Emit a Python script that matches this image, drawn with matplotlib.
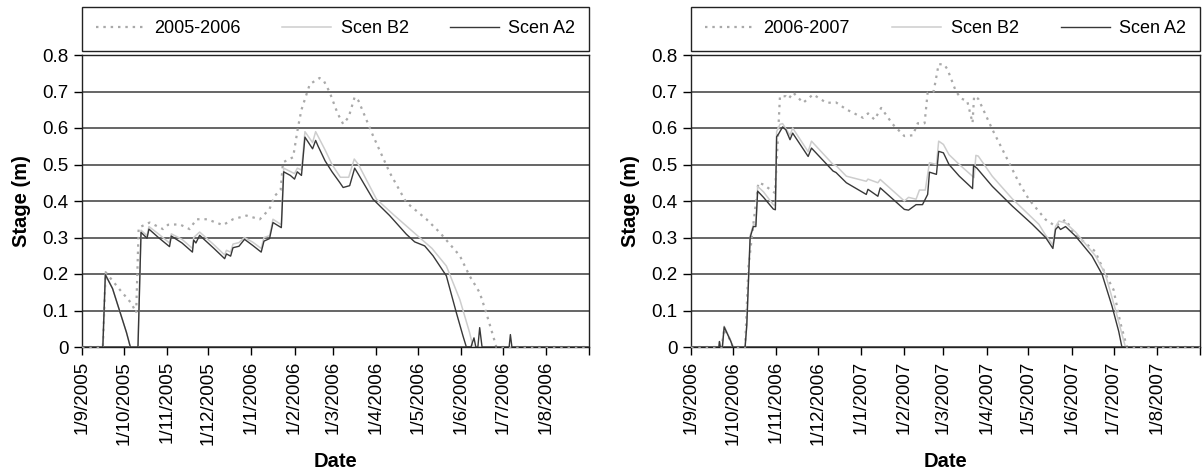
import numpy as np
import pandas as pd
import matplotlib
matplotlib.use('Agg')
import matplotlib.pyplot as plt
from matplotlib.ticker import FuncFormatter

plt.rcParams['font.family'] = ['Liberation Sans', 'DejaVu Sans']

# ---- left panel: season 2005-2006 (days counted from 1 Sep 2005) ----
start_left = '2005-09-01'
obs_left_label = '2005-2006'
obs_left_days = [0, 15, 17, 27, 35.5, 39, 40.8, 48.7, 58.3, 62, 70.3, 77.5, 82.4, 90, 101.5,
                 108.7, 118.4, 128, 135, 138.7, 143, 144.7, 152, 155.5, 158, 164, 171, 174,
                 178.3, 184, 188, 192, 196.3, 199, 209.5, 221.5, 233.5, 248, 257.5, 272, 279,
                 286.3, 291, 296, 298.3, 365]
obs_left = [0, 0, 0.205, 0.158, 0.12, 0.094, 0.327, 0.341, 0.323, 0.335, 0.336, 0.323, 0.35,
            0.35, 0.334, 0.35, 0.36, 0.35, 0.378, 0.414, 0.43, 0.506, 0.52, 0.602, 0.65, 0.72,
            0.737, 0.73, 0.698, 0.64, 0.611, 0.63, 0.685, 0.675, 0.579, 0.478, 0.396, 0.35,
            0.314, 0.25, 0.195, 0.149, 0.094, 0.03, 0, 0]

b2_left_days = [0, 15, 16.8, 22, 27, 32, 34.8, 40.3, 42.5, 46.8, 48.2, 55, 63, 64.3, 72, 79.5,
                80.4, 84.7, 95, 102.7, 104, 107, 108.7, 113, 117, 123, 129, 131, 135, 137.5,
                143.5, 145.2, 153, 155, 158, 160.5, 166, 168.2, 175, 180, 186, 192, 196, 199,
                212, 225, 243, 252, 262.3, 272, 279, 281.5, 365]
b2_left = [0, 0, 0.2, 0.16, 0.1, 0.04, 0, 0, 0.32, 0.305, 0.33, 0.31, 0.285, 0.31, 0.295, 0.27,
           0.3, 0.315, 0.28, 0.252, 0.265, 0.26, 0.282, 0.286, 0.3, 0.287, 0.27, 0.3, 0.305,
           0.35, 0.335, 0.49, 0.475, 0.49, 0.485, 0.59, 0.56, 0.59, 0.54, 0.5, 0.465, 0.465,
           0.515, 0.5, 0.405, 0.36, 0.3, 0.27, 0.222, 0.13, 0.04, 0, 0]

a2_left_days = [0, 15, 16.8, 22, 27, 32, 34.8, 40.3, 42.5, 46.8, 48.2, 55, 63, 64.3, 72, 79.5,
                80.4, 82, 84.7, 95, 102.7, 104, 107, 108.7, 113, 117, 123, 129, 131, 135, 137.5,
                143.5, 145.2, 150, 153, 155, 158, 160.5, 166, 168.2, 170, 175, 180, 185.5, 188,
                192.7, 196.3, 199, 209.5, 221.5, 233.5, 239.5, 246.7, 252.7, 262.3, 269.5,
                274.3, 276.7, 280, 282.2, 283.5, 285, 286.3, 288, 307.5, 308.4, 309.5, 365]
a2_left = [0, 0, 0.198, 0.16, 0.1, 0.04, 0, 0, 0.314, 0.298, 0.323, 0.3, 0.275, 0.304, 0.285,
           0.26, 0.293, 0.285, 0.306, 0.27, 0.242, 0.255, 0.249, 0.272, 0.276, 0.295, 0.278,
           0.26, 0.29, 0.297, 0.341, 0.327, 0.48, 0.47, 0.46, 0.48, 0.47, 0.575, 0.543, 0.566,
           0.55, 0.51, 0.48, 0.451, 0.437, 0.442, 0.49, 0.473, 0.405, 0.36, 0.309, 0.288,
           0.277, 0.25, 0.195, 0.094, 0.03, 0, 0, 0.025, 0, 0, 0.053, 0, 0, 0.034, 0, 0]

# ---- right panel: season 2006-2007 (days counted from 1 Sep 2006) ----
start_right = '2006-09-01'
obs_right_label = '2006-2007'
obs_right_days = [0, 22, 23.8, 28.6, 30, 38.8, 41.2, 44.5, 48.3, 52, 60.2, 61.5, 63.8, 68, 70,
                  73.3, 80.4, 87.6, 97.1, 104, 111.4, 123.3, 127, 131.6, 136.4, 144.7, 153,
                  159, 162.6, 167.5, 169.7, 174, 177.6, 181.6, 184, 190, 194, 198, 201.9, 203,
                  206, 216.1, 225.7, 235.2, 242.4, 254.3, 261.4, 268.6, 275, 289.8, 297.1, 303,
                  307.9, 312.6, 365]
obs_right = [0, 0, 0.05, 0.015, 0, 0, 0.22, 0.33, 0.45, 0.445, 0.422, 0.51, 0.687, 0.687,
             0.68, 0.697, 0.669, 0.692, 0.669, 0.67, 0.651, 0.628, 0.64, 0.623, 0.655, 0.61,
             0.578, 0.58, 0.613, 0.613, 0.697, 0.7, 0.775, 0.774, 0.76, 0.7, 0.68, 0.675,
             0.614, 0.687, 0.68, 0.596, 0.523, 0.45, 0.404, 0.349, 0.331, 0.349, 0.31, 0.262,
             0.2, 0.157, 0.066, 0, 0]

b2_right_days = [0, 20, 20.4, 21, 22.5, 23.8, 25, 28.6, 30, 38.8, 40, 42.4, 44.7, 46.5, 47.8,
                 52, 59, 60.5, 61.4, 63.8, 65.7, 71, 72.9, 84, 86.4, 101.9, 104, 111.4, 125.7,
                 126.9, 134, 135.7, 153, 156, 161.4, 163.8, 168, 171, 176, 177.6, 181, 185,
                 192.4, 203, 204.3, 206, 216, 230.4, 249.5, 254, 259.5, 261.4, 263.8, 268.6,
                 275.7, 290, 297.1, 304.3, 311.5, 365]
b2_right = [0, 0, 0.015, 0, 0, 0.057, 0.047, 0.017, 0, 0, 0.06, 0.305, 0.335, 0.335, 0.44,
            0.425, 0.39, 0.387, 0.59, 0.61, 0.612, 0.58, 0.6, 0.535, 0.564, 0.5, 0.497, 0.468,
            0.454, 0.46, 0.45, 0.459, 0.4, 0.41, 0.405, 0.43, 0.43, 0.505, 0.5, 0.564, 0.555,
            0.527, 0.5, 0.464, 0.525, 0.523, 0.468, 0.406, 0.336, 0.308, 0.28, 0.33, 0.345,
            0.34, 0.315, 0.25, 0.2, 0.103, 0, 0]

a2_right_days = [0, 20, 20.4, 21, 22.5, 23.8, 25, 28.6, 30, 38.8, 40, 42.4, 44.7, 46.5, 47.8,
                 52, 59, 60.5, 61.4, 63, 65.7, 68, 71, 72.9, 84, 86.4, 101.9, 104, 111.4,
                 125.7, 126.9, 134, 135.7, 153, 156, 161.4, 166, 169.7, 171, 176, 177.6, 181,
                 185, 192.4, 201.9, 202.6, 205, 216.1, 230.4, 244.8, 254.3, 259.5, 261.4, 263.3,
                 265, 268.6, 275.7, 287.6, 294.8, 301.9, 306.7, 309, 365]
a2_right = [0, 0, 0.015, 0, 0, 0.055, 0.045, 0.015, 0, 0, 0.06, 0.3, 0.33, 0.33, 0.427, 0.41,
            0.378, 0.376, 0.576, 0.585, 0.603, 0.595, 0.568, 0.586, 0.522, 0.545, 0.482,
            0.478, 0.45, 0.418, 0.432, 0.413, 0.436, 0.377, 0.375, 0.39, 0.39, 0.418, 0.479,
            0.473, 0.536, 0.532, 0.5, 0.468, 0.434, 0.497, 0.49, 0.44, 0.386, 0.336, 0.3, 0.27,
            0.322, 0.33, 0.322, 0.33, 0.304, 0.249, 0.199, 0.112, 0.043, 0, 0]

month_ticks = 13
y_ticks = [0, 0.1, 0.2, 0.3, 0.4, 0.5, 0.6, 0.7, 0.8]


def to_dates(start, days):
    return pd.Timestamp(start) + pd.to_timedelta(np.array(days), unit='D')


def draw_panel(ax, start, obs_label, obs_days, obs, b2_days, b2, a2_days, a2, leg_box):
    ax.plot(to_dates(start, obs_days), obs, color='#a9a9a9', lw=1.6,
            linestyle=(0, (1.1, 2.2)), label=obs_label, zorder=3, clip_on=False)
    ax.plot(to_dates(start, b2_days), b2, color='#cdcdcd', lw=1.1, label='Scen B2', zorder=3)
    ax.plot(to_dates(start, a2_days), a2, color='#383838', lw=1.0, label='Scen A2', zorder=4)

    ticks = pd.date_range(start, periods=month_ticks, freq='MS')
    ax.set_xlim(ticks[0], ticks[-1])
    ax.set_xticks(ticks)
    ax.set_xticklabels([f'{d.day}/{d.month}/{d.year}' for d in ticks[:-1]] + [''],
                       rotation=90, fontsize=13.5)
    ax.set_ylim(0, 0.8)
    ax.set_yticks(y_ticks)
    ax.yaxis.set_major_formatter(FuncFormatter(lambda v, p: f'{v:g}'))
    ax.tick_params(axis='y', labelsize=13.5, direction='out', length=6, width=1)
    ax.tick_params(axis='x', direction='out', length=6, width=1, pad=4)
    ax.grid(axis='y', color='#3c3c3c', lw=1.1)
    ax.set_axisbelow(True)
    for s in ax.spines.values():
        s.set_color('#222222')
        s.set_linewidth(1.0)
    ax.set_xlabel('Date', fontsize=14.5, fontweight='bold', labelpad=5)
    ax.set_ylabel('Stage (m)', fontsize=14.5, fontweight='bold', labelpad=8)
    leg = ax.figure.legend(loc='lower left', bbox_to_anchor=leg_box,
                           bbox_transform=ax.figure.transFigure, mode='expand', ncol=3,
                           borderaxespad=0, fontsize=13, handlelength=2.7,
                           handletextpad=0.55, fancybox=False, framealpha=1,
                           edgecolor='#222222', borderpad=0.75,
                           handles=ax.get_lines())
    leg.get_frame().set_linewidth(1.0)


W, H = 1202, 472
fig = plt.figure(figsize=(W / 100, H / 100), dpi=100)
ax1 = fig.add_axes([82 / W, 1 - 347 / H, 507 / W, 292 / H])
ax2 = fig.add_axes([691 / W, 1 - 347 / H, 509 / W, 292 / H])

draw_panel(ax1, start_left, obs_left_label, obs_left_days, obs_left,
           b2_left_days, b2_left, a2_left_days, a2_left,
           (82 / W, 1 - 51 / H, 507 / W, 42 / H))
draw_panel(ax2, start_right, obs_right_label, obs_right_days, obs_right,
           b2_right_days, b2_right, a2_right_days, a2_right,
           (691 / W, 1 - 51 / H, 509 / W, 42 / H))

fig.savefig('out.png', dpi=100)
